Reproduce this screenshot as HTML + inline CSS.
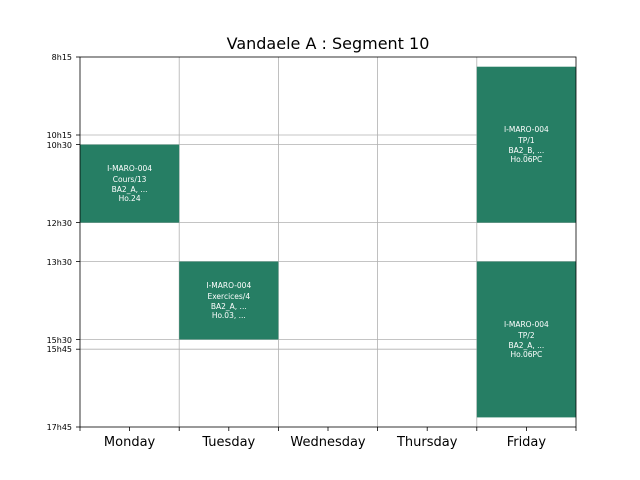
<!DOCTYPE html>
<html><head><style>body{margin:0;background:#fff}svg{display:block}</style></head><body>
<svg width="640" height="480" xmlns="http://www.w3.org/2000/svg" font-family="DejaVu Sans, sans-serif">
<rect width="640" height="480" fill="#fff"/>
<g stroke="#b0b0b0" stroke-width="0.8">
<line x1="179.2" y1="57" x2="179.2" y2="427"/><line x1="278.4" y1="57" x2="278.4" y2="427"/>
<line x1="377.6" y1="57" x2="377.6" y2="427"/><line x1="476.8" y1="57" x2="476.8" y2="427"/>
<line x1="80" y1="135" x2="576" y2="135"/><line x1="80" y1="144.6" x2="576" y2="144.6"/>
<line x1="80" y1="222.6" x2="576" y2="222.6"/><line x1="80" y1="261.5" x2="576" y2="261.5"/>
<line x1="80" y1="339.5" x2="576" y2="339.5"/><line x1="80" y1="349.2" x2="576" y2="349.2"/>
</g>
<g fill="#267e64">
<rect x="80" y="144.6" width="99.2" height="78"/>
<rect x="179.2" y="261.5" width="99.2" height="78"/>
<rect x="476.8" y="66.7" width="99.2" height="155.9"/>
<rect x="476.8" y="261.5" width="99.2" height="155.9"/>
</g>
<g fill="#fff" font-size="7.5" text-anchor="middle">
<text x="129.6" y="171">I-MARO-004</text><text x="129.6" y="182">Cours/13</text><text x="129.6" y="192">BA2_A, ...</text><text x="129.6" y="201">Ho.24</text>
<text x="228.8" y="288">I-MARO-004</text><text x="228.8" y="299">Exercices/4</text><text x="228.8" y="309">BA2_A, ...</text><text x="228.8" y="318">Ho.03, ...</text>
<text x="526.4" y="132">I-MARO-004</text><text x="526.4" y="143">TP/1</text><text x="526.4" y="153">BA2_B, ...</text><text x="526.4" y="162">Ho.06PC</text>
<text x="526.4" y="327">I-MARO-004</text><text x="526.4" y="338">TP/2</text><text x="526.4" y="348">BA2_A, ...</text><text x="526.4" y="357">Ho.06PC</text>
</g>
<rect x="80" y="57" width="496" height="370" fill="none" stroke="#000" stroke-width="0.8"/>
<g stroke="#000" stroke-width="0.8">
<line x1="80" y1="427" x2="80" y2="431"/><line x1="129.6" y1="427" x2="129.6" y2="431"/><line x1="179.2" y1="427" x2="179.2" y2="431"/>
<line x1="228.8" y1="427" x2="228.8" y2="431"/><line x1="278.4" y1="427" x2="278.4" y2="431"/><line x1="328" y1="427" x2="328" y2="431"/>
<line x1="377.6" y1="427" x2="377.6" y2="431"/><line x1="427.2" y1="427" x2="427.2" y2="431"/><line x1="476.8" y1="427" x2="476.8" y2="431"/>
<line x1="526.4" y1="427" x2="526.4" y2="431"/><line x1="576" y1="427" x2="576" y2="431"/>
<line x1="76" y1="57" x2="80" y2="57"/><line x1="76" y1="135" x2="80" y2="135"/><line x1="76" y1="144.6" x2="80" y2="144.6"/>
<line x1="76" y1="222.6" x2="80" y2="222.6"/><line x1="76" y1="261.5" x2="80" y2="261.5"/><line x1="76" y1="339.5" x2="80" y2="339.5"/>
<line x1="76" y1="349.2" x2="80" y2="349.2"/><line x1="76" y1="427" x2="80" y2="427"/>
</g>
<g font-size="8" text-anchor="end" fill="#000">
<text x="72" y="60">8h15</text><text x="72" y="138">10h15</text><text x="72" y="148">10h30</text>
<text x="72" y="226">12h30</text><text x="72" y="265">13h30</text><text x="72" y="343">15h30</text>
<text x="72" y="352">15h45</text><text x="72" y="430">17h45</text>
</g>
<g font-size="13" text-anchor="middle" fill="#000">
<text x="129.6" y="446">Monday</text><text x="228.8" y="446">Tuesday</text><text x="328" y="446">Wednesday</text>
<text x="427.2" y="446">Thursday</text><text x="526.4" y="446">Friday</text>
</g>
<text x="328" y="49" font-size="16" text-anchor="middle" fill="#000">Vandaele A : Segment 10</text>
</svg>
</body></html>
